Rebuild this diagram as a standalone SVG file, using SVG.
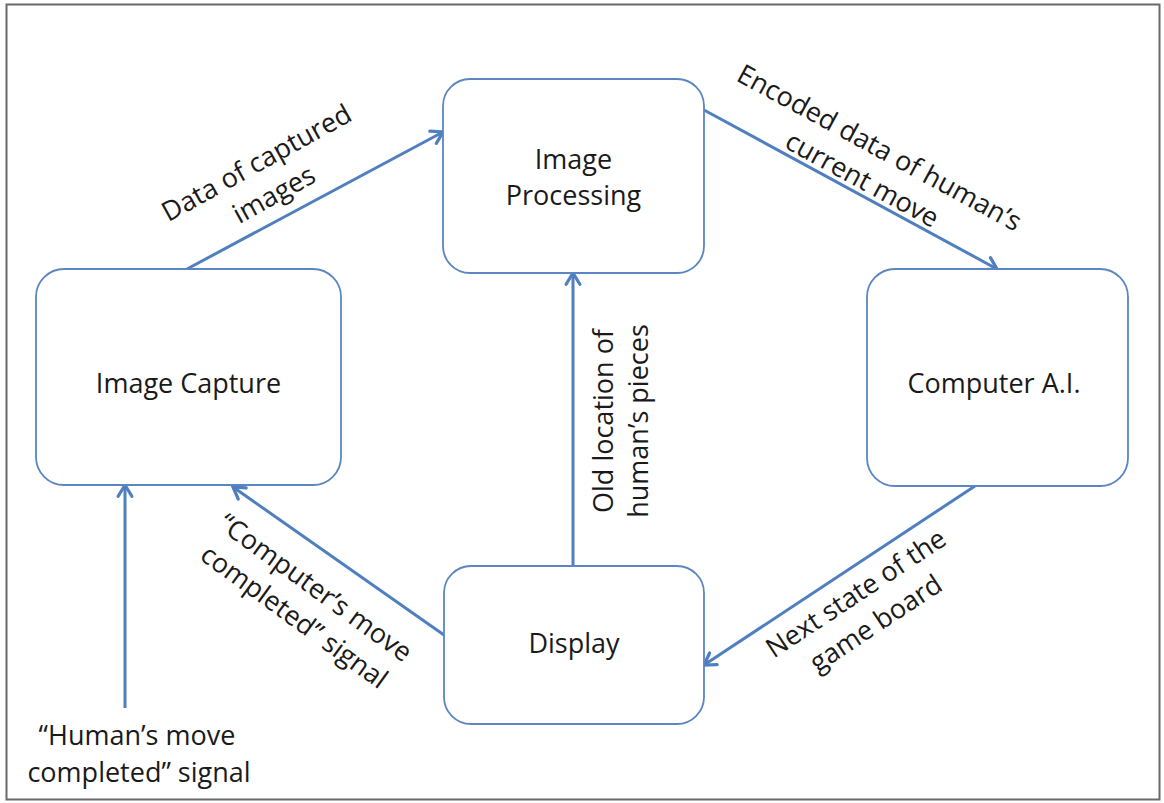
<svg xmlns="http://www.w3.org/2000/svg" width="1164" height="803" viewBox="0 0 1164 803">
  <defs>
    <marker id="arr" markerUnits="userSpaceOnUse" markerWidth="20" markerHeight="20" viewBox="-12 -8 14 16" refX="0" refY="0" orient="auto">
      <path d="M-9,-5.5 L0,0 L-9,5.5" fill="none" stroke="#4f7fbf" stroke-width="2.6" stroke-linejoin="miter" stroke-linecap="round"/>
    </marker>
  </defs>
  <style>
    .node rect { fill: #ffffff; stroke: #5b86c2; stroke-width: 1.8; }
    .node text, .label { font-family: "Open Sans", "Liberation Sans", sans-serif; font-size: 27px; fill: #1a1a1a; text-anchor: middle; }
    .conn { stroke: #4f7fbf; stroke-width: 3; fill: none; marker-end: url(#arr); }
  </style>
  <rect x="0" y="0" width="1164" height="803" fill="#ffffff"/>
  <rect id="frame" x="6.5" y="4.5" width="1153" height="795" fill="none" stroke="#6a6a6a" stroke-width="2"/>

  <g id="connectors">
    <path class="conn" d="M187,269 L443,132"/>
    <path class="conn" d="M704,110 L997,269"/>
    <path class="conn" d="M573,566 L573,273"/>
    <path class="conn" d="M975,486 L704,665"/>
    <path class="conn" d="M444,635 L233,487"/>
    <path class="conn" d="M125,708 L125,485"/>
  </g>

  <g id="image-capture" class="node">
    <rect x="36" y="269" width="305" height="216" rx="28"/>
    <text x="188.5" y="393">Image Capture</text>
  </g>
  <g id="image-processing" class="node">
    <rect x="443" y="79" width="261" height="194" rx="27"/>
    <text x="573.5" y="169">Image</text>
    <text x="573.5" y="205">Processing</text>
  </g>
  <g id="computer-ai" class="node">
    <rect x="867" y="269" width="261" height="217" rx="28"/>
    <text x="994" y="393">Computer A.I.</text>
  </g>
  <g id="display" class="node">
    <rect x="444" y="566" width="260" height="158" rx="27"/>
    <text x="574" y="653">Display</text>
  </g>

  <g id="labels">
    <text class="label" transform="rotate(-29 261 171)"><tspan x="261" y="171">Data of captured</tspan><tspan x="261" y="207">images</tspan></text>
    <text class="label" transform="rotate(28.5 875 156)"><tspan x="875" y="156">Encoded data of human’s</tspan><tspan x="875" y="192">current move</tspan></text>
    <text class="label" transform="translate(613 421) rotate(-90)"><tspan x="0" y="0">Old location of</tspan><tspan x="0" y="35">human’s pieces</tspan></text>
    <text class="label" transform="rotate(-33.5 861 601)"><tspan x="861" y="601">Next state of the</tspan><tspan x="861" y="637">game board</tspan></text>
    <text class="label" transform="rotate(36 310 595)"><tspan x="310" y="595">“Computer’s move</tspan><tspan x="310" y="631">completed” signal</tspan></text>
    <text class="label"><tspan x="137" y="745">“Human’s move</tspan><tspan x="139" y="782">completed” signal</tspan></text>
  </g>
</svg>
